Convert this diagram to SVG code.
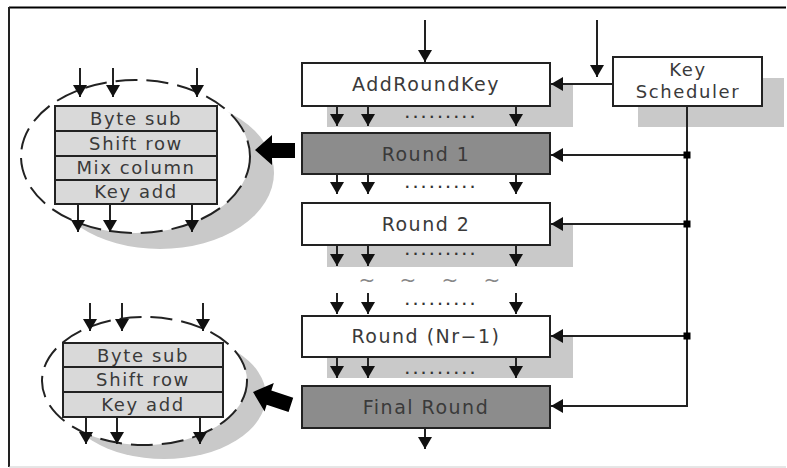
<svg xmlns="http://www.w3.org/2000/svg" width="787" height="468" viewBox="0 0 787 468">
  <style>
    .box { fill: #ffffff; stroke: #222; stroke-width: 2; }
    .dark { fill: #8c8c8c; stroke: #222; stroke-width: 2; }
    .shadow { fill: #c9c9c9; }
    .cell { fill: #d9d9d9; stroke: #222; stroke-width: 2; }
    .lbl { font-family: "DejaVu Sans", "Liberation Sans", sans-serif; font-size: 19px; letter-spacing: 1.5px; fill: #3a3a3a; text-anchor: middle; }
    .sm { font-family: "DejaVu Sans", "Liberation Sans", sans-serif; font-size: 18px; letter-spacing: 1.6px; fill: #3a3a3a; text-anchor: middle; }
    .dots { font-family: "DejaVu Sans", "Liberation Sans", sans-serif; font-size: 12px; font-weight: bold; letter-spacing: 3.6px; fill: #333; }
    .tilde { font-family: "DejaVu Sans", "Liberation Sans", sans-serif; font-size: 20px; fill: #888; text-anchor: middle; }
    .ln { fill: none; stroke: #222; stroke-width: 2; }
    .arr { fill: none; stroke: #222; stroke-width: 2; marker-end: url(#head); }
    .oval { fill: #ffffff; stroke: #222; stroke-width: 2; stroke-dasharray: 22 9; }
  </style>
  <defs>
    <marker id="head" markerUnits="userSpaceOnUse" markerWidth="14" markerHeight="14" refX="12" refY="7" orient="auto">
      <path d="M0,0 L12,7 L0,14 Z" fill="#111"/>
    </marker>
    <path id="bigArrow" d="M0,0 L17,-15 L17,-7 L40,-7 L40,8 L17,8 L17,15 Z" fill="#000"/>
  </defs>

  <!-- outer frame -->
  <line x1="9" y1="7.5" x2="786" y2="7.5" stroke="#000" stroke-width="2"/>
  <line x1="9" y1="7" x2="9" y2="467" stroke="#222" stroke-width="2"/>
  <line x1="9" y1="467" x2="786" y2="467" stroke="#ccc" stroke-width="1"/>

  <!-- expanded view: full round -->
  <g id="round-detail">
    <ellipse cx="160" cy="173" rx="114" ry="76" class="shadow"/>
    <ellipse cx="135.5" cy="156.5" rx="114.5" ry="76.5" class="oval"/>
    <rect x="55" y="106" width="162" height="25" class="cell"/>
    <rect x="55" y="131" width="162" height="25" class="cell"/>
    <rect x="55" y="156" width="162" height="24" class="cell"/>
    <rect x="55" y="180" width="162" height="24" class="cell"/>
    <text x="136" y="125" class="sm">Byte sub</text>
    <text x="136" y="150" class="sm">Shift row</text>
    <text x="136" y="174" class="sm">Mix column</text>
    <text x="136" y="198" class="sm">Key add</text>
    <line x1="80" y1="68" x2="80" y2="97" class="arr"/>
    <line x1="113" y1="68" x2="113" y2="97" class="arr"/>
    <line x1="197" y1="68" x2="197" y2="97" class="arr"/>
    <line x1="78" y1="204" x2="78" y2="232" class="arr"/>
    <line x1="110" y1="204" x2="110" y2="232" class="arr"/>
    <line x1="192" y1="204" x2="192" y2="232" class="arr"/>
    <use href="#bigArrow" x="255" y="150"/>
  </g>

  <!-- expanded view: final round -->
  <g id="final-detail">
    <ellipse cx="164" cy="396" rx="102" ry="63" class="shadow"/>
    <ellipse cx="144.5" cy="381" rx="102.5" ry="64" class="oval"/>
    <rect x="63" y="343" width="160" height="24" class="cell"/>
    <rect x="63" y="367" width="160" height="25" class="cell"/>
    <rect x="63" y="392" width="160" height="25" class="cell"/>
    <text x="143" y="362" class="sm">Byte sub</text>
    <text x="143" y="386" class="sm">Shift row</text>
    <text x="143" y="411" class="sm">Key add</text>
    <line x1="90" y1="303" x2="90" y2="331" class="arr"/>
    <line x1="122" y1="303" x2="122" y2="331" class="arr"/>
    <line x1="203" y1="303" x2="203" y2="331" class="arr"/>
    <line x1="86" y1="417" x2="86" y2="444" class="arr"/>
    <line x1="117" y1="417" x2="117" y2="444" class="arr"/>
    <line x1="200" y1="417" x2="200" y2="444" class="arr"/>
    <use href="#bigArrow" transform="translate(253,392) rotate(18)"/>
  </g>

  <!-- cipher stages -->
  <g id="add-round-key">
    <rect x="327" y="84" width="246" height="43" class="shadow"/>
    <rect x="302" y="63" width="248" height="43" class="box"/>
    <text x="426" y="91" class="lbl">AddRoundKey</text>
  </g>
  <g id="round-1">
    <rect x="302" y="133" width="248" height="41" class="dark"/>
    <text x="426" y="161" class="lbl">Round 1</text>
  </g>
  <g id="round-2">
    <rect x="327" y="224" width="246" height="43" class="shadow"/>
    <rect x="302" y="203" width="248" height="42" class="box"/>
    <text x="426" y="231" class="lbl">Round 2</text>
  </g>
  <g id="round-nr-1">
    <rect x="327" y="336" width="246" height="42" class="shadow"/>
    <rect x="302" y="316" width="248" height="41" class="box"/>
    <text x="426" y="343" class="lbl">Round (Nr−1)</text>
  </g>
  <g id="final-round">
    <rect x="302" y="386" width="248" height="42" class="dark"/>
    <text x="426" y="414" class="lbl">Final Round</text>
  </g>
  <g id="key-scheduler">
    <rect x="638" y="78" width="146" height="49" class="shadow"/>
    <rect x="613" y="57" width="149" height="49" class="box"/>
    <text x="688" y="76" class="sm">Key</text>
    <text x="688" y="98" class="sm">Scheduler</text>
  </g>

  <!-- data and key connectors -->
  <g id="connectors">
    <line x1="425" y1="20" x2="425" y2="62" class="arr"/>
    <line x1="597" y1="20" x2="597" y2="77" class="arr"/>

    <line x1="337" y1="106" x2="337" y2="126" class="arr"/>
    <line x1="368" y1="106" x2="368" y2="126" class="arr"/>
    <line x1="516" y1="106" x2="516" y2="126" class="arr"/>
    <text x="405" y="118" class="dots">.........</text>

    <line x1="337" y1="174" x2="337" y2="194" class="arr"/>
    <line x1="368" y1="174" x2="368" y2="194" class="arr"/>
    <line x1="516" y1="174" x2="516" y2="194" class="arr"/>
    <text x="405" y="188" class="dots">.........</text>

    <line x1="337" y1="245" x2="337" y2="266" class="arr"/>
    <line x1="368" y1="245" x2="368" y2="266" class="arr"/>
    <line x1="516" y1="245" x2="516" y2="266" class="arr"/>
    <text x="405" y="255" class="dots">.........</text>

    <text x="367" y="287" class="tilde">~</text>
    <text x="408" y="287" class="tilde">~</text>
    <text x="450" y="287" class="tilde">~</text>
    <text x="492" y="287" class="tilde">~</text>

    <line x1="337" y1="293" x2="337" y2="314" class="arr"/>
    <line x1="368" y1="293" x2="368" y2="314" class="arr"/>
    <line x1="516" y1="293" x2="516" y2="314" class="arr"/>
    <text x="405" y="305" class="dots">.........</text>

    <line x1="337" y1="357" x2="337" y2="378" class="arr"/>
    <line x1="368" y1="357" x2="368" y2="378" class="arr"/>
    <line x1="516" y1="357" x2="516" y2="378" class="arr"/>
    <text x="405" y="374" class="dots">.........</text>

    <line x1="425" y1="428" x2="425" y2="449" class="arr"/>

    <!-- key distribution bus -->
    <line x1="613" y1="84" x2="551" y2="84" class="arr"/>
    <polyline points="687,106 687,406" class="ln"/>
    <line x1="687" y1="155" x2="551" y2="155" class="arr"/>
    <line x1="687" y1="224" x2="551" y2="224" class="arr"/>
    <line x1="687" y1="336" x2="551" y2="336" class="arr"/>
    <polyline points="688,406 687,406 551,406" class="arr"/>
    <rect x="683.5" y="151.5" width="7" height="7" fill="#000"/>
    <rect x="683.5" y="220.5" width="7" height="7" fill="#000"/>
    <rect x="683.5" y="332.5" width="7" height="7" fill="#000"/>
  </g>
</svg>
